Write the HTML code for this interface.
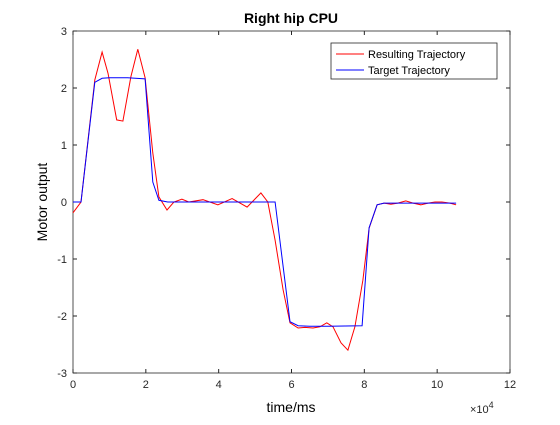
<!DOCTYPE html>
<html><head><meta charset="utf-8"><style>
body{margin:0;background:#fff;font-family:"Liberation Sans",sans-serif;}
svg text{font-family:"Liberation Sans",sans-serif;}
</style></head><body>
<svg id="chart" width="560" height="420">
<rect width="560" height="420" fill="#fff"/>
<rect x="73" y="31" width="437" height="342" fill="#fff" stroke="none"/>
<g id="axes"></g>
<g id="series"></g>
<text x="291" y="23" text-anchor="middle" font-size="14" font-weight="bold">Right hip CPU</text>
<text x="291" y="412" text-anchor="middle" font-size="14">time/ms</text>
<text x="47" y="202" text-anchor="middle" font-size="14" transform="rotate(-90 47 202)">Motor output</text>
<text x="470" y="413" font-size="11" fill="#262626">×10<tspan dy="-5" font-size="9">4</tspan></text>
<g>
<rect x="331" y="43" width="166" height="36" fill="#fff" stroke="#262626" stroke-width="0.8"/>
<g><line x1="336" y1="54" x2="364" y2="54" stroke="#f00"/><text x="368" y="58" font-size="11">Resulting Trajectory</text></g>
<g><line x1="336" y1="70" x2="364" y2="70" stroke="#00f"/><text x="368" y="74" font-size="11">Target Trajectory</text></g>
</g>
</svg>
<script>
const xTicks=[0,2,4,6,8,10,12];
const yTicks=[-3,-2,-1,0,1,2,3];
const redT=[0,0.22,0.6,0.8,0.96,1.2,1.37,1.59,1.78,1.98,2.19,2.36,2.58,2.77,2.99,3.18,3.57,3.98,4.37,4.78,5.16,5.35,5.55,5.77,5.96,6.18,6.37,6.59,6.78,6.97,7.14,7.36,7.55,7.74,7.96,8.13,8.35,8.54,8.73,8.92,9.14,9.34,9.55,9.75,9.94,10.13,10.35,10.52];
const redV=[-0.19,0,2.14,2.63,2.26,1.44,1.42,2.2,2.68,2.18,0.86,0.09,-0.14,0,0.05,0,0.04,-0.05,0.06,-0.09,0.16,0,-0.67,-1.54,-2.12,-2.21,-2.2,-2.21,-2.19,-2.12,-2.19,-2.47,-2.6,-2.19,-1.37,-0.46,-0.05,-0.02,-0.04,-0.02,0.02,-0.02,-0.05,-0.02,0,0,-0.02,-0.05];
const blueT=[0,0.22,0.6,0.8,1.0,1.5,1.98,2.19,2.36,2.6,5.55,5.96,6.18,6.5,7.0,7.94,8.13,8.35,8.54,10.52];
const blueV=[0,0,2.1,2.17,2.18,2.18,2.16,0.35,0.03,0,0,-2.1,-2.17,-2.18,-2.18,-2.17,-0.45,-0.05,-0.02,-0.02];
const X0=73,X1=510,Y0=373,Y1=31;
function sx(v){return X0+(v-0)/(12-0)*(X1-X0);}
function sy(v){return Y0-(v+3)/6*(Y0-Y1);}
const NS='http://www.w3.org/2000/svg';
const ax=document.getElementById('axes');
function el(t,a,p){const e=document.createElementNS(NS,t);for(const k in a)e.setAttribute(k,a[k]);p.appendChild(e);return e;}
const box=el('rect',{x:X0,y:Y1,width:X1-X0,height:Y0-Y1,fill:'none',stroke:'#262626','stroke-width':0.8},ax);


xTicks.forEach(t=>{const x=sx(t);
el('line',{x1:x,y1:Y0,x2:x,y2:Y0-4,stroke:'#262626'},ax);
el('line',{x1:x,y1:Y1,x2:x,y2:Y1+4,stroke:'#262626'},ax);
const tx=el('text',{x:x,y:Y0+15,'text-anchor':'middle','font-size':11,fill:'#262626'},ax);tx.textContent=t;

});
yTicks.forEach(t=>{const y=sy(t);
el('line',{x1:X0,y1:y,x2:X0+4,y2:y,stroke:'#262626'},ax);
el('line',{x1:X1,y1:y,x2:X1-4,y2:y,stroke:'#262626'},ax);
const tx=el('text',{x:X0-6,y:y+4,'text-anchor':'end','font-size':11,fill:'#262626'},ax);tx.textContent=t;

});
const sg=document.getElementById('series');
function line(T,V,c,name){const d=T.map((t,i)=>(i?'L':'M')+sx(t).toFixed(1)+','+sy(V[i]).toFixed(1)).join('');
const p=el('path',{d:d,fill:'none',stroke:c,'stroke-width':1},sg);

}
line(redT,redV,'#f00','resulting-trajectory-line');
line(blueT,blueV,'#00f','target-trajectory-line');
</script>
</body></html>
